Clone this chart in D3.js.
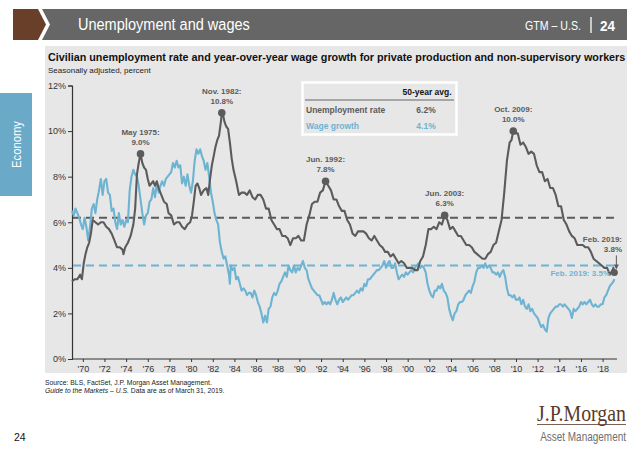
<!DOCTYPE html>
<html><head><meta charset="utf-8">
<script src="https://cdn.jsdelivr.net/npm/d3@7"></script>
<style>
body{margin:0;background:#fff;}
svg{display:block;font-family:"Liberation Sans",Arial,sans-serif;}
</style></head><body>
<svg id="c" width="640" height="450"></svg>
<script>
// ---- DATA ----
const unemployment = [
["1969-01",3.4],["1969-04",3.5],["1969-07",3.5],["1969-10",3.7],["1969-12",3.5],
["1970-02",4.2],["1970-04",4.6],["1970-06",4.9],["1970-08",5.1],["1970-10",5.5],["1970-12",6.1],
["1971-03",6.0],["1971-06",5.9],["1971-09",6.0],["1971-12",6.0],
["1972-03",5.8],["1972-06",5.7],["1972-09",5.5],["1972-12",5.2],
["1973-03",4.9],["1973-06",4.9],["1973-09",4.8],["1973-10",4.6],["1973-12",4.9],
["1974-03",5.1],["1974-06",5.4],["1974-09",5.9],["1974-11",6.6],
["1975-01",8.1],["1975-03",8.6],["1975-05",9.0],["1975-07",8.6],["1975-09",8.4],["1975-11",8.3],
["1976-01",7.9],["1976-03",7.6],["1976-05",7.7],["1976-07",7.8],["1976-09",7.6],["1976-11",7.8],
["1977-01",7.5],["1977-04",7.2],["1977-07",6.9],["1977-10",6.8],["1977-12",6.4],
["1978-03",6.3],["1978-06",5.9],["1978-09",6.0],["1978-12",6.0],
["1979-03",5.8],["1979-06",5.7],["1979-09",5.9],["1979-12",6.0],
["1980-02",6.3],["1980-04",6.9],["1980-06",7.6],["1980-08",7.7],["1980-10",7.5],["1980-12",7.2],
["1981-03",7.4],["1981-06",7.5],["1981-08",7.2],["1981-10",7.9],["1981-12",8.5],
["1982-02",8.9],["1982-04",9.3],["1982-06",9.6],["1982-08",9.8],["1982-10",10.4],["1982-11",10.8],["1982-12",10.8],
["1983-02",10.4],["1983-04",10.2],["1983-06",10.1],["1983-08",9.5],["1983-10",8.8],["1983-12",8.3],
["1984-03",7.8],["1984-06",7.2],["1984-09",7.3],["1984-12",7.3],
["1985-03",7.2],["1985-06",7.4],["1985-09",7.1],["1985-12",7.0],
["1986-03",7.2],["1986-06",7.2],["1986-09",7.0],["1986-12",6.6],
["1987-03",6.6],["1987-06",6.1],["1987-09",5.9],["1987-12",5.7],
["1988-03",5.7],["1988-06",5.4],["1988-09",5.4],["1988-12",5.3],
["1989-03",5.0],["1989-06",5.3],["1989-09",5.3],["1989-12",5.4],
["1990-03",5.2],["1990-06",5.2],["1990-09",5.9],["1990-12",6.3],
["1991-03",6.8],["1991-06",6.9],["1991-09",6.9],["1991-12",7.3],
["1992-03",7.4],["1992-06",7.8],["1992-09",7.6],["1992-12",7.4],
["1993-03",7.0],["1993-06",7.0],["1993-09",6.7],["1993-12",6.5],
["1994-03",6.5],["1994-06",6.1],["1994-09",5.9],["1994-12",5.5],
["1995-03",5.4],["1995-06",5.6],["1995-09",5.6],["1995-12",5.6],
["1996-03",5.5],["1996-06",5.3],["1996-09",5.2],["1996-12",5.4],
["1997-03",5.2],["1997-06",5.0],["1997-09",4.9],["1997-12",4.7],
["1998-03",4.7],["1998-06",4.5],["1998-09",4.6],["1998-12",4.4],
["1999-03",4.2],["1999-06",4.3],["1999-09",4.2],["1999-12",4.0],
["2000-03",4.0],["2000-06",4.0],["2000-09",3.9],["2000-12",3.9],
["2001-03",4.3],["2001-06",4.5],["2001-09",5.0],["2001-12",5.7],
["2002-03",5.7],["2002-06",5.8],["2002-09",5.7],["2002-12",6.0],
["2003-03",5.9],["2003-06",6.3],["2003-09",6.1],["2003-12",5.7],
["2004-03",5.8],["2004-06",5.6],["2004-09",5.4],["2004-12",5.4],
["2005-03",5.2],["2005-06",5.0],["2005-09",5.0],["2005-12",4.9],
["2006-03",4.7],["2006-06",4.6],["2006-09",4.5],["2006-12",4.4],
["2007-03",4.4],["2007-06",4.6],["2007-09",4.7],["2007-12",5.0],
["2008-03",5.1],["2008-06",5.6],["2008-09",6.1],["2008-12",7.3],
["2009-03",8.7],["2009-06",9.5],["2009-08",9.6],["2009-10",10.0],["2009-12",9.9],
["2010-03",9.9],["2010-06",9.4],["2010-09",9.5],["2010-12",9.3],
["2011-03",9.0],["2011-06",9.1],["2011-09",9.0],["2011-12",8.5],
["2012-03",8.2],["2012-06",8.2],["2012-09",7.8],["2012-12",7.9],
["2013-03",7.5],["2013-06",7.5],["2013-09",7.2],["2013-12",6.7],
["2014-03",6.7],["2014-06",6.1],["2014-09",5.9],["2014-12",5.6],
["2015-03",5.4],["2015-06",5.3],["2015-09",5.0],["2015-12",5.0],
["2016-03",5.0],["2016-06",4.9],["2016-09",4.9],["2016-12",4.7],
["2017-03",4.4],["2017-06",4.3],["2017-09",4.2],["2017-12",4.1],
["2018-03",4.0],["2018-06",4.0],["2018-09",3.7],["2018-12",3.9],
["2019-01",4.0],["2019-02",3.8]
];
const wageGrowth = [
["1969-01",6.5],["1969-03",6.3],["1969-05",6.6],["1969-07",6.4],["1969-09",6.2],["1969-11",5.9],
["1970-01",5.7],["1970-03",6.2],["1970-05",5.8],["1970-07",5.2],["1970-09",5.8],["1970-11",6.6],
["1971-01",6.8],["1971-03",6.4],["1971-05",7.0],["1971-07",7.4],["1971-09",7.9],["1971-11",7.2],
["1972-01",7.8],["1972-03",7.9],["1972-05",7.3],["1972-07",7.2],["1972-09",6.5],["1972-11",6.6],
["1973-01",6.0],["1973-03",5.7],["1973-05",6.4],["1973-07",5.9],["1973-09",6.1],["1973-11",5.8],
["1974-01",6.1],["1974-03",6.0],["1974-05",7.4],["1974-07",8.0],["1974-09",8.3],["1974-11",8.1],
["1975-01",8.0],["1975-03",7.6],["1975-05",7.0],["1975-07",6.4],["1975-09",5.9],["1975-11",6.3],
["1976-01",6.4],["1976-03",6.9],["1976-05",7.0],["1976-07",7.5],["1976-09",7.1],["1976-11",7.7],
["1977-01",7.3],["1977-03",7.6],["1977-05",7.8],["1977-07",7.6],["1977-09",7.9],["1977-11",8.0],
["1978-01",8.1],["1978-03",8.2],["1978-05",8.6],["1978-07",8.4],["1978-09",8.7],["1978-11",8.4],
["1979-01",8.5],["1979-03",7.7],["1979-05",8.0],["1979-07",7.6],["1979-09",8.1],["1979-11",7.6],
["1980-01",7.3],["1980-03",7.8],["1980-05",8.7],["1980-07",9.2],["1980-09",9.0],["1980-11",9.2],
["1981-01",8.9],["1981-03",8.7],["1981-05",8.3],["1981-07",8.6],["1981-09",8.0],["1981-11",7.3],
["1982-01",6.9],["1982-03",6.4],["1982-05",6.1],["1982-07",5.9],["1982-09",5.1],["1982-11",4.7],
["1983-01",4.4],["1983-03",4.5],["1983-05",4.1],["1983-07",3.7],["1983-08",3.3],["1983-09",4.1],["1983-11",3.9],
["1984-01",4.0],["1984-03",3.5],["1984-05",3.6],["1984-07",3.3],["1984-09",3.0],["1984-11",3.1],
["1985-01",3.0],["1985-03",2.8],["1985-05",2.9],["1985-07",2.9],["1985-09",2.7],["1985-11",3.0],
["1986-01",2.8],["1986-03",2.5],["1986-05",2.3],["1986-07",2.0],["1986-09",1.6],["1986-11",1.9],
["1987-01",1.6],["1987-03",2.2],["1987-05",2.3],["1987-07",2.7],["1987-09",2.9],["1987-11",2.8],
["1988-01",3.0],["1988-03",3.3],["1988-05",3.4],["1988-07",3.6],["1988-09",3.8],["1988-11",3.6],
["1989-01",4.1],["1989-03",3.9],["1989-05",3.8],["1989-07",4.1],["1989-09",3.8],["1989-11",4.0],
["1990-01",3.9],["1990-03",4.1],["1990-05",4.3],["1990-07",4.0],["1990-09",3.9],["1990-11",3.5],
["1991-01",3.3],["1991-03",3.1],["1991-05",3.0],["1991-07",2.9],["1991-09",2.8],["1991-11",2.8],
["1992-01",2.6],["1992-03",2.4],["1992-05",2.5],["1992-07",2.4],["1992-09",2.5],["1992-11",2.4],
["1993-01",2.6],["1993-03",2.9],["1993-05",2.6],["1993-07",2.4],["1993-09",2.6],["1993-11",2.7],
["1994-01",2.5],["1994-03",2.6],["1994-05",2.7],["1994-07",2.6],["1994-09",2.7],["1994-11",2.8],
["1995-01",2.8],["1995-03",2.9],["1995-05",3.0],["1995-07",2.9],["1995-09",3.1],["1995-11",3.0],
["1996-01",3.3],["1996-03",3.2],["1996-05",3.5],["1996-07",3.5],["1996-09",3.6],["1996-11",3.7],
["1997-01",3.8],["1997-03",3.9],["1997-05",3.9],["1997-07",4.0],["1997-09",4.1],["1997-11",4.3],
["1998-01",4.0],["1998-03",4.2],["1998-05",4.3],["1998-07",4.0],["1998-09",4.0],["1998-11",4.2],
["1999-01",3.8],["1999-03",3.5],["1999-05",3.6],["1999-07",3.7],["1999-09",3.6],["1999-11",3.8],
["2000-01",3.7],["2000-03",3.8],["2000-05",3.9],["2000-07",3.8],["2000-09",4.0],["2000-11",4.1],
["2001-01",4.2],["2001-03",4.0],["2001-05",4.1],["2001-07",4.0],["2001-09",3.8],["2001-11",3.3],
["2002-01",3.0],["2002-03",2.8],["2002-05",2.7],["2002-07",3.0],["2002-09",3.0],["2002-11",3.2],
["2003-01",3.1],["2003-03",3.3],["2003-05",3.0],["2003-07",2.9],["2003-09",2.7],["2003-11",2.2],
["2004-01",1.9],["2004-03",1.7],["2004-05",2.0],["2004-07",2.1],["2004-09",2.4],["2004-11",2.5],
["2005-01",2.5],["2005-03",2.6],["2005-05",2.8],["2005-07",2.9],["2005-09",3.0],["2005-11",2.9],
["2006-01",3.2],["2006-03",3.4],["2006-05",3.8],["2006-07",4.0],["2006-09",4.0],["2006-11",4.1],
["2007-01",4.0],["2007-03",4.2],["2007-05",4.0],["2007-07",4.1],["2007-09",4.0],["2007-11",3.8],
["2008-01",3.8],["2008-03",3.7],["2008-05",3.8],["2008-07",3.6],["2008-09",3.8],["2008-11",3.9],
["2009-01",3.6],["2009-03",3.1],["2009-05",2.8],["2009-07",2.8],["2009-09",2.7],["2009-11",2.8],
["2010-01",2.6],["2010-03",2.6],["2010-05",2.7],["2010-07",2.4],["2010-09",2.6],["2010-11",2.3],
["2011-01",2.2],["2011-03",2.4],["2011-05",2.1],["2011-07",2.2],["2011-09",2.0],["2011-11",1.9],
["2012-01",1.8],["2012-03",1.6],["2012-05",1.4],["2012-07",1.5],["2012-09",1.3],["2012-11",1.2],
["2013-01",1.8],["2013-03",2.0],["2013-05",2.1],["2013-07",2.2],["2013-09",2.3],["2013-11",2.3],
["2014-01",2.4],["2014-03",2.4],["2014-05",2.3],["2014-07",2.4],["2014-09",2.3],["2014-11",2.2],
["2015-01",2.1],["2015-03",1.8],["2015-05",2.2],["2015-07",2.1],["2015-09",2.2],["2015-11",2.3],
["2016-01",2.5],["2016-03",2.4],["2016-05",2.5],["2016-07",2.4],["2016-09",2.5],["2016-11",2.6],
["2017-01",2.4],["2017-03",2.3],["2017-05",2.4],["2017-07",2.3],["2017-09",2.3],["2017-11",2.4],
["2018-01",2.4],["2018-03",2.7],["2018-05",2.8],["2018-07",3.0],["2018-09",3.2],["2018-11",3.3],
["2019-01",3.4],["2019-02",3.5]
];
const averages = [{label:"Unemployment rate", value:6.2, key:"u"},{label:"Wage growth", value:4.1, key:"w"}];
const peaks = [
  {date:"1975-05", value:9.0, label:"May 1975:"},
  {date:"1982-11", value:10.8, label:"Nov. 1982:"},
  {date:"1992-06", value:7.8, label:"Jun. 1992:"},
  {date:"2003-06", value:6.3, label:"Jun. 2003:"},
  {date:"2009-10", value:10.0, label:"Oct. 2009:"}
];
const latestUnemp = {date:"2019-02", value:3.8, label:"Feb. 2019:"};
const latestWage = {date:"2019-02", value:3.5, label:"Feb. 2019: 3.5%"};
const yTicks = [0,2,4,6,8,10,12];
const xTickYears = d3.range(1970, 2019, 2);

// ---- STYLE ----
const DARK = "#5b5b5b", BLUE = "#6db3d2", PANEL = "#e7e7e7";
const NARROW = "'Liberation Sans Narrow','Arial Narrow','Liberation Sans',sans-serif";
const parse = d3.timeParse("%Y-%m");
const svg = d3.select("#c");

// condense a text horizontally (keeping its height) so it spans width w
function condense(sel, tx, ty, w, rot){
  const len = sel.node().getComputedTextLength();
  const s = len > 0 ? w / len : 1;
  sel.attr("x",0).attr("y",0)
     .attr("transform",`translate(${tx},${ty})${rot ? ` rotate(${rot})` : ""} scale(${s.toFixed(3)},1)`);
  return sel;
}

// header
svg.append("polygon").attr("points","13,9 38,9 46,24.5 38,40 13,40").attr("fill","#6a3f2a");
svg.append("polygon").attr("points","42,9 627,9 627,40 42,40 50,24.5").attr("fill","#666666");
condense(svg.append("text").attr("fill","#fff").style("font-family",NARROW).style("font-size","16.5px")
  .text("Unemployment and wages"), 78, 30, 172);
condense(svg.append("text").attr("fill","#fff").attr("text-anchor","end").style("font-family",NARROW).style("font-size","13px")
  .text("GTM – U.S."), 581, 30, 56);
svg.append("line").attr("x1",591).attr("x2",591).attr("y1",17).attr("y2",33).attr("stroke","#fff").attr("stroke-width",1.3);
condense(svg.append("text").attr("fill","#fff").style("font-family",NARROW).style("font-size","15.5px").style("font-weight","bold")
  .text("24"), 600, 30.5, 15);

// side tab
svg.append("rect").attr("x",0).attr("y",93).attr("width",32).attr("height",103).attr("fill","#6aaac8");
condense(svg.append("text").attr("text-anchor","middle").attr("fill","#fff").style("font-family",NARROW).style("font-size","13px")
  .text("Economy"), 21, 144.5, 47, -90);

// panel
svg.append("rect").attr("x",45).attr("y",46).attr("width",582).attr("height",327).attr("fill",PANEL);
condense(svg.append("text").attr("fill","#111").style("font-size","10.5px").style("font-weight","bold")
  .text("Civilian unemployment rate and year-over-year wage growth for private production and non-supervisory workers"), 48, 61, 578);
svg.append("text").attr("x",48).attr("y",73).attr("fill","#222").style("font-size","8px").text("Seasonally adjusted, percent");

// scales
const x = d3.scaleTime().domain([new Date(1969,0,1), new Date(2019,4,1)]).range([72,617]);
const y = d3.scaleLinear().domain([0,12]).range([359,85.5]);

// axes
const yAxis = svg.append("g").attr("transform","translate(72,0)")
  .call(d3.axisLeft(y).tickValues(yTicks).tickFormat(d=>d+"%").tickSize(4).tickPadding(2));
const xAxis = svg.append("g").attr("transform","translate(0,359)")
  .call(d3.axisBottom(x).tickValues(xTickYears.map(yr=>new Date(yr,0,1))).tickFormat(d3.timeFormat("'%y")).tickSize(3).tickPadding(4));
[yAxis,xAxis].forEach(g=>{
  g.select(".domain").attr("stroke","#333").attr("stroke-width",1.2);
  g.selectAll(".tick line").attr("stroke","#333");
  g.selectAll("text").attr("fill","#333").style("font-size","9px").style("font-family","'Liberation Sans',Arial,sans-serif");
});
xAxis.select(".domain").attr("d","M72,0H617");

// average lines
const avgColor = {u:DARK, w:BLUE};
svg.selectAll(".avg").data(averages).enter().append("line")
  .attr("x1",x(new Date(1969,0,1))+1).attr("x2",617)
  .attr("y1",d=>y(d.value)).attr("y2",d=>y(d.value))
  .attr("stroke",d=>avgColor[d.key]).attr("stroke-width",2).attr("stroke-dasharray","8,5");

// lines
const line = d3.line().x(d=>x(parse(d[0]))).y(d=>y(d[1])).curve(d3.curveLinear);
svg.append("path").datum(wageGrowth).attr("d",line).attr("fill","none").attr("stroke",BLUE).attr("stroke-width",2.1).attr("stroke-linejoin","round");
svg.append("path").datum(unemployment).attr("d",line).attr("fill","none").attr("stroke",DARK).attr("stroke-width",2.1).attr("stroke-linejoin","round");

// peak markers
const pk = svg.selectAll(".pk").data(peaks).enter().append("g");
pk.append("circle").attr("cx",d=>x(parse(d.date))).attr("cy",d=>y(d.value)).attr("r",3.8).attr("fill",DARK);
pk.append("text").attr("x",d=>x(parse(d.date))).attr("y",d=>y(d.value)-19).attr("text-anchor","middle")
  .attr("fill",DARK).style("font-size","8px").style("font-weight","bold").text(d=>d.label);
pk.append("text").attr("x",d=>x(parse(d.date))).attr("y",d=>y(d.value)-9).attr("text-anchor","middle")
  .attr("fill",DARK).style("font-size","8px").style("font-weight","bold").text(d=>d.value.toFixed(1)+"%");

// latest markers
const lx = x(parse(latestUnemp.date)), ly = y(latestUnemp.value);
svg.append("circle").attr("cx",lx).attr("cy",ly).attr("r",3.5).attr("fill",DARK);
svg.append("text").attr("x",622).attr("y",ly-30).attr("text-anchor","end").attr("fill",DARK)
  .style("font-size","8px").style("font-weight","bold").text(latestUnemp.label);
svg.append("text").attr("x",622).attr("y",ly-20).attr("text-anchor","end").attr("fill",DARK)
  .style("font-size","8px").style("font-weight","bold").text(latestUnemp.value.toFixed(1)+"%");
svg.append("line").attr("x1",lx+2).attr("x2",lx+2).attr("y1",ly-17).attr("y2",ly-7).attr("stroke",DARK).attr("stroke-width",1);
svg.append("path").attr("d",`M${lx-0.5},${ly-8}L${lx+4.5},${ly-8}L${lx+2},${ly-3}Z`).attr("fill",DARK);
svg.append("text").attr("x",610).attr("y",y(latestWage.value)-3).attr("text-anchor","end").attr("fill",BLUE)
  .style("font-size","8px").style("font-weight","bold").text(latestWage.label);

// average table
const tb = svg.append("g");
tb.append("rect").attr("x",302.5).attr("y",82.5).attr("width",154).attr("height",52).attr("fill",PANEL).attr("stroke","#fff").attr("stroke-width",2.5);
tb.append("text").attr("x",427).attr("y",95).attr("text-anchor","middle").attr("fill","#111").style("font-size","8.5px").style("font-weight","bold").text("50-year avg.");
tb.append("line").attr("x1",305).attr("x2",454).attr("y1",100).attr("y2",100).attr("stroke","#666").attr("stroke-width",1.2);
tb.selectAll(".row").data(averages).enter().append("g").each(function(d,i){
  const g = d3.select(this), yy = 112.5 + i*16.5;
  g.append("text").attr("x",306).attr("y",yy).attr("fill",avgColor[d.key]).style("font-size","8.5px").style("font-weight","bold").text(d.label);
  g.append("text").attr("x",426).attr("y",yy).attr("text-anchor","middle").attr("fill",avgColor[d.key]).style("font-size","8.5px").style("font-weight","bold").text(d.value.toFixed(1)+"%");
});

// footer
svg.append("text").attr("x",45).attr("y",385).attr("fill","#222").style("font-size","6.8px").text("Source: BLS, FactSet, J.P. Morgan Asset Management.");
const ft = svg.append("text").attr("x",45).attr("y",393).attr("fill","#222").style("font-size","6.8px");
ft.append("tspan").style("font-style","italic").text("Guide to the Markets – U.S.");
ft.append("tspan").text(" Data are as of March 31, 2019.");
svg.append("text").attr("x",14).attr("y",441).attr("fill","#111").style("font-size","10.5px").text("24");
condense(svg.append("text").attr("text-anchor","end").attr("fill","#5a3a28")
  .style("font-family","'Liberation Serif','DejaVu Serif',serif").style("font-size","23px").text("J.P.Morgan"), 626, 421, 89);
svg.append("line").attr("x1",537).attr("x2",626).attr("y1",424.5).attr("y2",424.5).attr("stroke","#5a3a28").attr("stroke-width",0.8);
condense(svg.append("text").attr("text-anchor","end").attr("fill","#6e6e6e")
  .style("font-family",NARROW).style("font-size","12.5px").text("Asset Management"), 626, 441, 86);
</script></body></html>
